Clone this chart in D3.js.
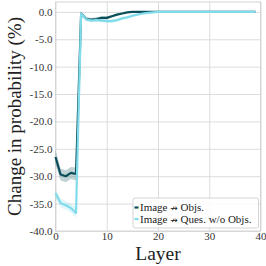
<!DOCTYPE html>
<html>
<head>
<meta charset="utf-8">
<script src="https://cdn.jsdelivr.net/npm/d3@7"></script>
<style>
  body { margin: 0; background: #fff; }
  svg text { font-family: "Liberation Serif", "Times New Roman", serif; }
</style>
</head>
<body>
<div class="chart"></div>
<script>
/** data */
let layers = d3.range(0, 40);
let obj_mean = [-26.5, -29.7, -30.0, -29.4, -29.6, -0.3, -1.3, -1.4, -1.3, -1.1,
                -1.1, -0.8, -0.5, -0.3, -0.1, 0, 0, 0, 0, 0,
                0, 0, 0, 0, 0, 0, 0, 0, 0, 0, 0, 0, 0, 0, 0, 0, 0, 0, 0, 0];
let obj_sd = [1.3, 1.1, 1.1, 1.1, 1.2, 0.3, 0.3, 0.3, 0.3, 0.3,
              0.3, 0.2, 0.2, 0.1, 0.1, 0.05, 0.05, 0.05, 0.05, 0.05,
              0, 0, 0, 0, 0, 0, 0, 0, 0, 0, 0, 0, 0, 0, 0, 0, 0, 0, 0, 0];
let ques_mean = [-33.1, -34.9, -35.3, -35.8, -36.7, -0.3, -1.4, -1.6, -1.5, -1.6,
                 -1.7, -1.7, -1.5, -1.2, -1.0, -0.7, -0.5, -0.3, -0.2, -0.1,
                 0, 0, 0, 0, 0, 0, 0, 0, 0, 0, 0, 0, 0, 0, 0, 0, 0, 0, 0, 0];
let ques_sd = [0.8, 0.8, 0.8, 0.8, 0.9, 0.2, 0.3, 0.3, 0.3, 0.3,
               0.3, 0.3, 0.3, 0.3, 0.2, 0.2, 0.1, 0.1, 0.1, 0.05,
               0, 0, 0, 0, 0, 0, 0, 0, 0, 0, 0, 0, 0, 0, 0, 0, 0, 0, 0, 0];
let series_names = [["Image ", "\u219b", " Objs."], ["Image ", "\u219b", " Ques. w/o Objs."]];
let series_colors = ["#0c4f5b", "#80dbea"];
let x_ticks = [0, 10, 20, 30, 40];
let y_ticks = d3.range(-40, 1, 5);

/** canvas */
let width = 266, height = 266;
let margin = { top: 2, right: 5.5, bottom: 35, left: 55.5 };
let draw_width = width - margin.left - margin.right,
    draw_height = height - margin.top - margin.bottom;

let svg = d3.select('.chart').append('svg')
    .attr('width', width)
    .attr('height', height);
let canvas = svg.append('g')
    .attr('transform', `translate(${margin.left}, ${margin.top})`);

/** scales and axes */
let xScale = d3.scaleLinear().domain([0, 40]).range([0, draw_width]);
let yScale = d3.scaleLinear().domain([-40, 1.8]).range([draw_height, 0]);

let xAxis = d3.axisBottom(xScale).tickValues(x_ticks).tickSize(-draw_height).tickPadding(1.5);
let yAxis = d3.axisLeft(yScale).tickValues(y_ticks).tickFormat(d3.format('.1f')).tickSize(-draw_width).tickPadding(3);

let gx = canvas.append('g')
    .attr('transform', `translate(0, ${draw_height})`)
    .call(xAxis);
let gy = canvas.append('g').call(yAxis);

[gx, gy].forEach(function (g) {
    g.attr('font-family', null);
    g.select('.domain').remove();
    g.selectAll('.tick line').attr('stroke', '#dcdcdc').attr('stroke-width', 1);
    g.selectAll('.tick text')
        .attr('fill', '#333')
        .style('font-family', '"Liberation Serif", serif')
        .style('font-size', '11px');
});
gy.selectAll('.tick text').text(function (d) { return d3.format('.1f')(d).replace('\u2212', '-'); });

/** frame */
canvas.append('rect')
    .attr('x', 0).attr('y', 0)
    .attr('width', draw_width).attr('height', draw_height)
    .attr('fill', 'none')
    .attr('stroke', '#d4d4d4')
    .attr('stroke-width', 1);

/** bands and lines */
let all_series = [
    { mean: obj_mean, sd: obj_sd },
    { mean: ques_mean, sd: ques_sd }
];

let area = d3.area()
    .x(function (d) { return xScale(d.x) })
    .y0(function (d) { return yScale(d.m - d.s) })
    .y1(function (d) { return yScale(d.m + d.s) });
let line = d3.line()
    .x(function (d) { return xScale(d.x) })
    .y(function (d) { return yScale(d.m) });

all_series.forEach(function (s, i) {
    let pts = layers.map(function (l, j) { return { x: l, m: s.mean[j], s: s.sd[j] } });
    canvas.append('path')
        .datum(pts)
        .attr('d', area)
        .attr('fill', series_colors[i])
        .attr('fill-opacity', 0.25);
    canvas.append('path')
        .datum(pts)
        .attr('d', line)
        .attr('fill', 'none')
        .attr('stroke', series_colors[i])
        .attr('stroke-width', 2.2)
        .attr('stroke-linejoin', 'round');
});

/** legend */
let legend = canvas.append('g')
    .attr('transform', `translate(${draw_width - 127.5}, ${draw_height - 33})`);
legend.append('rect')
    .attr('width', 125.5).attr('height', 30)
    .attr('rx', 2)
    .attr('fill', '#fff').attr('fill-opacity', 0.85)
    .attr('stroke', '#d4d4d4');
series_names.forEach(function (name, i) {
    let y = 9.5 + i * 11.5;
    legend.append('line')
        .attr('x1', 1.5).attr('x2', 5.5)
        .attr('y1', y).attr('y2', y)
        .attr('stroke', series_colors[i])
        .attr('stroke-width', 2.2);
    let t = legend.append('text')
        .attr('x', 7)
        .attr('y', y + 3.8)
        .attr('fill', '#222')
        .style('font-size', '11px');
    t.append('tspan').text(name[0]);
    t.append('tspan')
        .style('font-family', '"DejaVu Sans", sans-serif')
        .style('font-size', '9px')
        .text(name[1]);
    t.append('tspan').text(name[2]);
});

/** axis labels */
svg.append('text')
    .attr('x', margin.left + draw_width / 2)
    .attr('y', 260)
    .attr('text-anchor', 'middle')
    .attr('fill', '#222')
    .style('font-size', '19.5px')
    .text('Layer');
svg.append('text')
    .attr('transform', `translate(21, ${margin.top + draw_height / 2}) rotate(-90)`)
    .attr('text-anchor', 'middle')
    .attr('fill', '#222')
    .style('font-size', '19px')
    .text('Change in probability (%)');
</script>
</body>
</html>
